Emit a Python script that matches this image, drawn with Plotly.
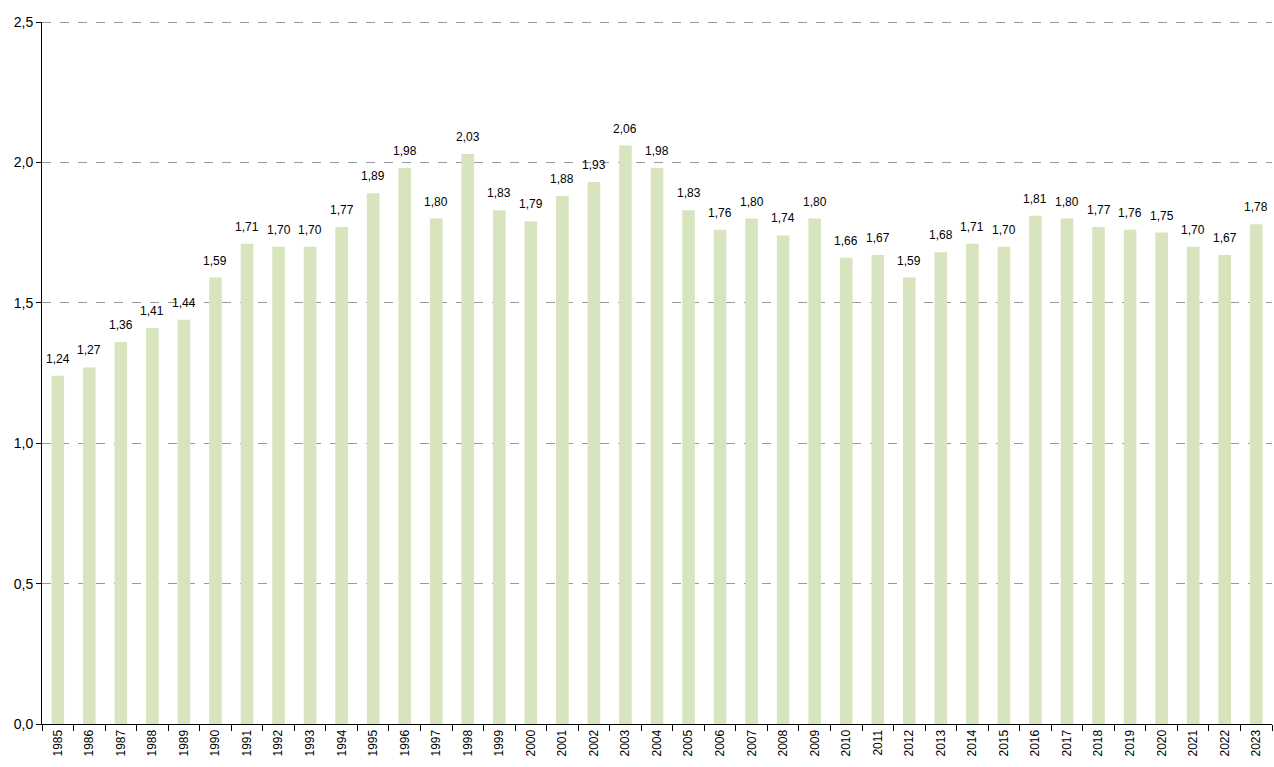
import plotly.graph_objects as go

years = [str(y) for y in range(1985, 2024)]
values = [1.24, 1.27, 1.36, 1.41, 1.44, 1.59, 1.71, 1.70, 1.70, 1.77,
          1.89, 1.98, 1.80, 2.03, 1.83, 1.79, 1.88, 1.93, 2.06, 1.98,
          1.83, 1.76, 1.80, 1.74, 1.80, 1.66, 1.67, 1.59, 1.68, 1.71,
          1.70, 1.81, 1.80, 1.77, 1.76, 1.75, 1.70, 1.67, 1.78]
y_ticks = [0, 0.5, 1.0, 1.5, 2.0, 2.5]
y_tick_labels = ["0,0", "0,5", "1,0", "1,5", "2,0", "2,5"]

labels = [f"{v:.2f}".replace(".", ",") for v in values]
FONT = "Liberation Sans Narrow, Arial Narrow, Liberation Sans, Arial, sans-serif"

fig = go.Figure(go.Bar(
    x=years, y=values,
    marker=dict(color="#d7e4bd", line=dict(width=0)),
    hoverinfo="x+y",
))
for i, (v, t) in enumerate(zip(values, labels)):
    fig.add_annotation(x=i, y=v, xref="x", yref="y", text=t, showarrow=False,
                       yanchor="bottom", yshift=8,
                       font=dict(family=FONT, size=12, color="#000"))
fig.update_layout(
    width=1274, height=767,
    margin=dict(l=42, r=2, t=22, b=43, autoexpand=False),
    plot_bgcolor="white", paper_bgcolor="white",
    bargap=0.6, showlegend=False,
    font=dict(family=FONT, size=13, color="#000"),
)
fig.add_shape(type="line", xref="paper", yref="y", x0=0, x1=1, y0=2.5, y1=2.5,
              line=dict(color="#333", width=1, dash="dash"))
fig.update_xaxes(
    type="category", tickangle=-90, tickson="boundaries",
    range=[-0.5, len(years) - 0.5],
    ticks="outside", ticklen=6, tickcolor="#000",
    showline=True, linecolor="#000", linewidth=1, automargin=False,
    tickfont=dict(family=FONT, size=12),
)
fig.update_yaxes(
    range=[0, 2.5], tickvals=y_ticks, ticktext=y_tick_labels,
    ticks="outside", ticklen=5, tickcolor="#000",
    showline=True, linecolor="#000", linewidth=1, automargin=False,
    showgrid=True, gridcolor="#999", griddash="dash", gridwidth=1,
    zeroline=False, tickfont=dict(family=FONT, size=14),
)
fig.write_html("out.html", config={"displayModeBar": False},
               post_script="document.body.style.margin='0';")
